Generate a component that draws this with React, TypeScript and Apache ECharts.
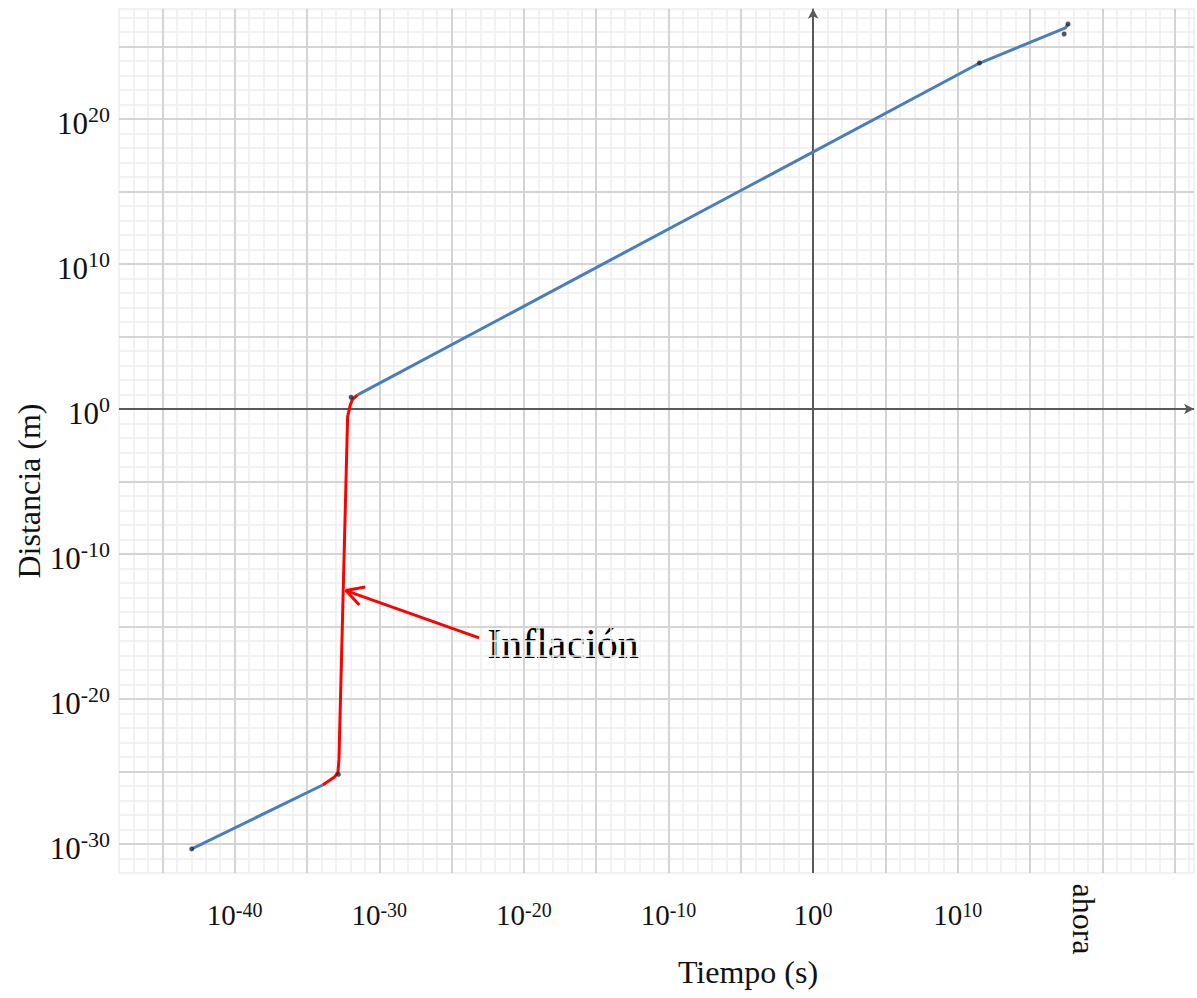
import React, { useEffect, useRef } from "react";
import * as echarts from "echarts";

// log10 values (decades)
const xMajorLines = [-45, -40, -35, -30, -25, -20, -15, -10, -5, 0, 5, 10, 15, 20, 25];
const yMajorLines = [-30, -25, -20, -15, -10, -5, 0, 5, 10, 15, 20, 25];
const xLabelExps = [-40, -30, -20, -10, 0, 10];
const yLabelExps = [-30, -20, -10, 0, 10, 20];
const originLines = [0];

const earlyBlue = [
  [-42.97, -30.34],
  [-33.91, -25.93],
];
const inflationRed = [
  [-33.91, -25.93],
  [-33.1, -25.38],
  [-32.86, -25.05],
  [-32.79, -24.2],
  [-32.19, -0.53],
  [-32.0, 0.3],
  [-31.84, 0.69],
  [-31.5, 0.97],
];
const lateBlue = [
  [-31.5, 0.97],
  [11.52, 23.86],
  [17.45, 26.28],
  [17.63, 26.55],
];
const markerDots = [
  [-42.97, -30.34],
  [-32.83, -25.2],
  [-31.95, 0.81],
  [11.5, 23.86],
  [17.63, 26.55],
  [17.36, 25.86],
];
const arrowShaft = [
  [-23.1, -15.79],
  [-32.31, -12.52],
];
const arrowHead = [
  [-30.97, -12.28],
  [-32.31, -12.52],
  [-31.38, -13.52],
];

const SERIF = "'Liberation Serif', 'Times New Roman', serif";

function isExp(v: number, list: number[]) {
  const r = Math.round(v);
  return Math.abs(v - r) < 1e-6 && list.indexOf(r) >= 0;
}

export default function App() {
  const ref = useRef<HTMLDivElement>(null);
  useEffect(() => {
    if (!ref.current) return;
    const chart = echarts.init(ref.current, undefined, { renderer: "svg" });
    const redLine = { color: "#ff0000", width: 3 };
    const blueLine = { color: "#4a7ebb", width: 3 };
    chart.setOption({
      animation: false,
      backgroundColor: "#ffffff",
      grid: { left: 119, right: 0, top: 8.8, bottom: 125, containLabel: false },
      xAxis: {
        type: "value",
        min: -48,
        max: 26.34,
        interval: 1,
        axisLine: { show: false },
        axisTick: { show: false },
        splitLine: { show: true, lineStyle: { color: "#eeeeee", width: 1.5 } },
        axisLabel: {
          interval: 0,
          margin: 27,
          formatter: (v: number) => (isExp(v, xLabelExps) ? `{b|10}{s|${Math.round(v)}}` : ""),
          rich: {
            b: { fontFamily: SERIF, fontSize: 29, color: "#111", lineHeight: 30 },
            s: { fontFamily: SERIF, fontSize: 20, color: "#111", lineHeight: 30, verticalAlign: "top", padding: [0, 0, 8, 0] },
          },
        },
      },
      yAxis: {
        type: "value",
        min: -32,
        max: 27.6,
        interval: 1,
        axisLine: { show: false },
        axisTick: { show: false },
        splitLine: { show: true, lineStyle: { color: "#eeeeee", width: 1.5 } },
        axisLabel: {
          interval: 0,
          margin: 9,
          formatter: (v: number) => (isExp(v, yLabelExps) ? `{b|10}{s|${Math.round(v)}}` : ""),
          rich: {
            b: { fontFamily: SERIF, fontSize: 31, color: "#111", lineHeight: 32, padding: [8, 0, 0, 0] },
            s: { fontFamily: SERIF, fontSize: 22, color: "#111", lineHeight: 32, verticalAlign: "top" },
          },
        },
      },
      series: [
        {
          type: "line",
          data: [],
          z: 1,
          silent: true,
          markLine: {
            silent: true,
            z: 1,
            animation: false,
            symbol: ["none", "none"],
            label: { show: false },
            emphasis: { disabled: true },
            lineStyle: { color: "#d4d4d4", width: 2, type: "solid" },
            data: [
              ...xMajorLines.map((v) => ({ xAxis: v })),
              ...yMajorLines.map((v) => ({ yAxis: v })),
            ],
          },
        },
        {
          type: "line",
          data: [],
          z: 2,
          silent: true,
          markLine: {
            silent: true,
            z: 2,
            animation: false,
            symbol: ["none", "arrow"],
            symbolSize: [8, 10],
            label: { show: false },
            emphasis: { disabled: true },
            lineStyle: { color: "#5a5a5a", width: 2, type: "solid" },
            data: [
              ...originLines.map((v) => ({ xAxis: v })),
              ...originLines.map((v) => ({ yAxis: v })),
            ],
          },
        },
        { type: "line", data: earlyBlue, z: 3, showSymbol: false, lineStyle: blueLine, itemStyle: { color: blueLine.color }, silent: true },
        { type: "line", data: lateBlue, z: 3, showSymbol: false, lineStyle: blueLine, itemStyle: { color: blueLine.color }, silent: true },
        { type: "line", data: inflationRed, z: 4, showSymbol: false, lineStyle: redLine, itemStyle: { color: "#ff0000" }, silent: true },
        { type: "line", data: arrowShaft, z: 4, showSymbol: false, lineStyle: redLine, itemStyle: { color: "#ff0000" }, silent: true },
        { type: "line", data: arrowHead, z: 4, showSymbol: false, lineStyle: redLine, itemStyle: { color: "#ff0000" }, silent: true },
        { type: "scatter", data: markerDots, z: 5, symbolSize: 5, itemStyle: { color: "#1f2a44" }, silent: true },
      ],
      graphic: [
        {
          type: "text",
          x: 563,
          y: 644,
          style: { text: "Inflación", font: `42px ${SERIF}`, fill: "#000", textAlign: "center", textVerticalAlign: "middle" },
        },
        {
          type: "text",
          x: 748,
          y: 972,
          style: { text: "Tiempo (s)", font: `32px ${SERIF}`, fill: "#111", textAlign: "center", textVerticalAlign: "middle" },
        },
        {
          type: "text",
          x: 29,
          y: 491,
          rotation: Math.PI / 2,
          style: { text: "Distancia (m)", font: `32px ${SERIF}`, fill: "#111", textAlign: "center", textVerticalAlign: "middle" },
        },
        {
          type: "text",
          x: 1084,
          y: 919,
          rotation: -Math.PI / 2,
          style: { text: "ahora", font: `32px ${SERIF}`, fill: "#111", textAlign: "center", textVerticalAlign: "middle" },
        },
      ],
    });
    return () => chart.dispose();
  }, []);
  return (
    <div
      ref={ref}
      style={{ position: "absolute", left: 0, top: 0, width: 1197, height: 998 }}
    />
  );
}
